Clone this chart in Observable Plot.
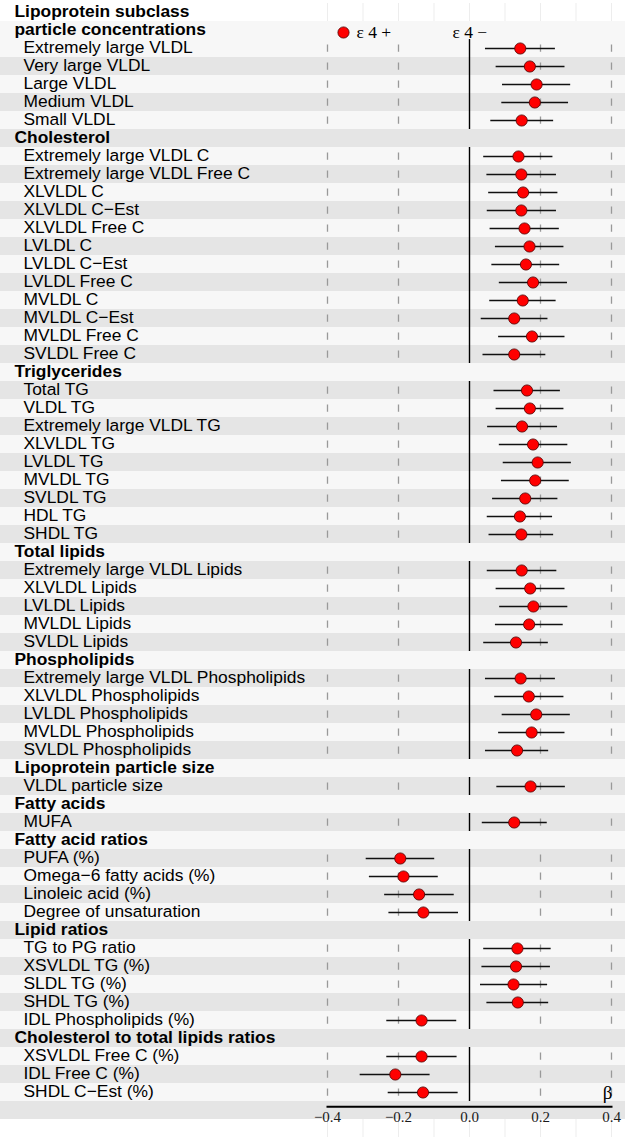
<!DOCTYPE html>
<html>
<head>
<meta charset="utf-8">
<script src="https://cdn.jsdelivr.net/npm/d3@7"></script>
<script src="https://cdn.jsdelivr.net/npm/@observablehq/plot@0.6"></script>
<style>
  body { margin: 0; background: #fff; }
  #chart svg { display: block; }
</style>
</head>
<body>
<div id="chart"></div>
<script>
// ---------- data ----------
const groupTitles = [
  ["Lipoprotein subclass", "particle concentrations"],
  ["Cholesterol"],
  ["Triglycerides"],
  ["Total lipids"],
  ["Phospholipids"],
  ["Lipoprotein particle size"],
  ["Fatty acids"],
  ["Fatty acid ratios"],
  ["Lipid ratios"],
  ["Cholesterol to total lipids ratios"]
];
const groupItems = [
  ["Extremely large VLDL", "Very large VLDL", "Large VLDL", "Medium VLDL", "Small VLDL"],
  ["Extremely large VLDL C", "Extremely large VLDL Free C", "XLVLDL C", "XLVLDL C\u2212Est", "XLVLDL Free C",
   "LVLDL C", "LVLDL C\u2212Est", "LVLDL Free C", "MVLDL C", "MVLDL C\u2212Est", "MVLDL Free C", "SVLDL Free C"],
  ["Total TG", "VLDL TG", "Extremely large VLDL TG", "XLVLDL TG", "LVLDL TG", "MVLDL TG", "SVLDL TG", "HDL TG", "SHDL TG"],
  ["Extremely large VLDL Lipids", "XLVLDL Lipids", "LVLDL Lipids", "MVLDL Lipids", "SVLDL Lipids"],
  ["Extremely large VLDL Phospholipids", "XLVLDL Phospholipids", "LVLDL Phospholipids", "MVLDL Phospholipids", "SVLDL Phospholipids"],
  ["VLDL particle size"],
  ["MUFA"],
  ["PUFA (%)", "Omega\u22126 fatty acids (%)", "Linoleic acid (%)", "Degree of unsaturation"],
  ["TG to PG ratio", "XSVLDL TG (%)", "SLDL TG (%)", "SHDL TG (%)", "IDL Phospholipids (%)"],
  ["XSVLDL Free C (%)", "IDL Free C (%)", "SHDL C\u2212Est (%)"]
];
const beta = [
  0.143, 0.170, 0.189, 0.184, 0.147,
  0.138, 0.146, 0.151, 0.146, 0.155, 0.169, 0.159, 0.179, 0.150, 0.126, 0.176, 0.126,
  0.162, 0.170, 0.148, 0.179, 0.192, 0.185, 0.157, 0.142, 0.146,
  0.147, 0.171, 0.180, 0.168, 0.131,
  0.144, 0.167, 0.188, 0.175, 0.134,
  0.172,
  0.126,
  -0.195, -0.186, -0.142, -0.130,
  0.135, 0.131, 0.124, 0.136, -0.135,
  -0.135, -0.209, -0.131
];
const lower = [
  0.045, 0.075, 0.093, 0.091, 0.060,
  0.040, 0.049, 0.054, 0.050, 0.058, 0.073, 0.063, 0.084, 0.057, 0.033, 0.082, 0.038,
  0.069, 0.075, 0.051, 0.084, 0.095, 0.090, 0.065, 0.050, 0.055,
  0.050, 0.075, 0.085, 0.073, 0.040,
  0.045, 0.071, 0.092, 0.082, 0.045,
  0.077,
  0.036,
  -0.291, -0.282, -0.239, -0.227,
  0.040, 0.035, 0.031, 0.049, -0.233,
  -0.233, -0.308, -0.229
];
const upper = [
  0.242, 0.269, 0.285, 0.279, 0.237,
  0.235, 0.245, 0.249, 0.245, 0.253, 0.266, 0.254, 0.276, 0.244, 0.221, 0.269, 0.215,
  0.256, 0.266, 0.248, 0.277, 0.287, 0.281, 0.249, 0.234, 0.237,
  0.246, 0.269, 0.277, 0.264, 0.222,
  0.242, 0.266, 0.284, 0.269, 0.223,
  0.270,
  0.219,
  -0.098, -0.088, -0.043, -0.031,
  0.230, 0.228, 0.220, 0.223, -0.036,
  -0.035, -0.111, -0.032
];
const xTicks = [-0.4, -0.2, 0, 0.2, 0.4];
const gridTicks = [-0.4, -0.2, 0.2, 0.4];
const faintTicks = [-0.4, -0.3, -0.2, -0.1, 0, 0.1, 0.2, 0.3, 0.4];
const legendLabels = ["\u03b5 4 +", "\u03b5 4 \u2212"];
const axisTitle = "\u03b2";

// ---------- build rows ----------
const rows = [];
let k = 0;
groupTitles.forEach((lines, g) => {
  lines.forEach(t => rows.push({label: t, type: "header"}));
  groupItems[g].forEach(t => {
    rows.push({label: t, type: "item", beta: beta[k], lo: lower[k], hi: upper[k]});
    k++;
  });
});
rows.forEach((r, i) => (r.id = i));
const axisRow = rows.length;           // row holding tick labels
const ids = d3.range(rows.length + 2); // plus a blank row below
const blankRows = [0, rows.length + 1];

const items = rows.filter(r => r.type === "item");
const headers = rows.filter(r => r.type === "header");

const GRAY = "#e5e5e5", LIGHT = "#f7f7f7";
const stripes = ids
  .filter(i => i >= 1 && i <= axisRow)
  .map(i => ({id: i, fill: (i >= 2 && i % 2 === 1) ? GRAY : LIGHT}));

const gridCells = items.flatMap(r => gridTicks.map(x => ({id: r.id, x})));
const faintCells = blankRows.flatMap(id => faintTicks.map(x => ({id, x})));

const SANS = "'Liberation Sans', Arial, Helvetica, sans-serif";
const SERIF = "'Liberation Serif', 'Times New Roman', Times, serif";

const chart = Plot.plot({
  width: 625,
  height: 1144,
  marginLeft: 327,
  marginRight: 14,
  marginTop: 0,
  marginBottom: 37.7,
  style: {background: "#fff", fontFamily: SANS, overflow: "visible"},
  x: {domain: [-0.4, 0.4]},
  y: {type: "band", domain: ids, range: [-2.08, 1142.6], padding: 0, axis: null},
  marks: [
    // stripes across the whole width
    Plot.cell(stripes, {y: "id", fill: "fill", insetLeft: -327, insetRight: -14}),
    // faint background grid in blank margins
    Plot.tickX(faintCells, {x: "x", y: "id", stroke: "#ededed", strokeWidth: 1}),
    // dashed grid in data rows
    Plot.tickX(gridCells, {x: "x", y: "id", stroke: "#999999", strokeWidth: 1.3, strokeDasharray: "0,5.4,7.4,5.4"}),
    // zero line in data rows
    Plot.tickX(items, {x: () => 0, y: "id", stroke: "#000", strokeWidth: 1.4}),
    // confidence intervals
    Plot.ruleY(items, {x1: "lo", x2: "hi", y: "id", stroke: "#111", strokeWidth: 1.6}),
    // estimates
    Plot.dot(items, {x: "beta", y: "id", r: 5.6, fill: "#ff0000", stroke: "#4a0000", strokeWidth: 0.8}),
    // row labels
    Plot.text(headers, {y: "id", text: "label", frameAnchor: "left", textAnchor: "start", dx: -313, dy: -1,
      fontSize: 17.4, fontWeight: "bold", fill: "#000"}),
    Plot.text(items, {y: "id", text: "label", frameAnchor: "left", textAnchor: "start", dx: -304, dy: -1,
      fontSize: 17.4, fill: "#000"}),
    // legend
    Plot.dot([legendLabels[0]], {y: () => 1, frameAnchor: "left", dx: 16, dy: 2, r: 5.6,
      fill: "#ff0000", stroke: "#4a0000", strokeWidth: 0.8}),
    Plot.text([legendLabels[0]], {y: () => 1, text: d => d, frameAnchor: "left", textAnchor: "start",
      dx: 29, dy: 2, fontSize: 17.5, fontFamily: SERIF, fill: "#000"}),
    Plot.text([legendLabels[1]], {y: () => 1, text: d => d, frameAnchor: "left", textAnchor: "start",
      dx: 125, dy: 2, fontSize: 17.5, fontFamily: SERIF, fill: "#000"}),
    // axis
    Plot.frame({anchor: "bottom", stroke: "#000", strokeWidth: 2}),
    Plot.axisX(xTicks, {anchor: "bottom", tickSize: 0, tickPadding: 5, tickFormat: d3.format(".1f"),
      fontFamily: SERIF, fontSize: 15, fill: "#1a1a1a", label: null}),
    Plot.text([axisTitle], {frameAnchor: "bottom-right", textAnchor: "end", lineAnchor: "bottom",
      dx: 1, dy: -8, fontSize: 19, fontFamily: SERIF, fill: "#000"})
  ]
});
document.getElementById("chart").appendChild(chart);
</script>
</body>
</html>
